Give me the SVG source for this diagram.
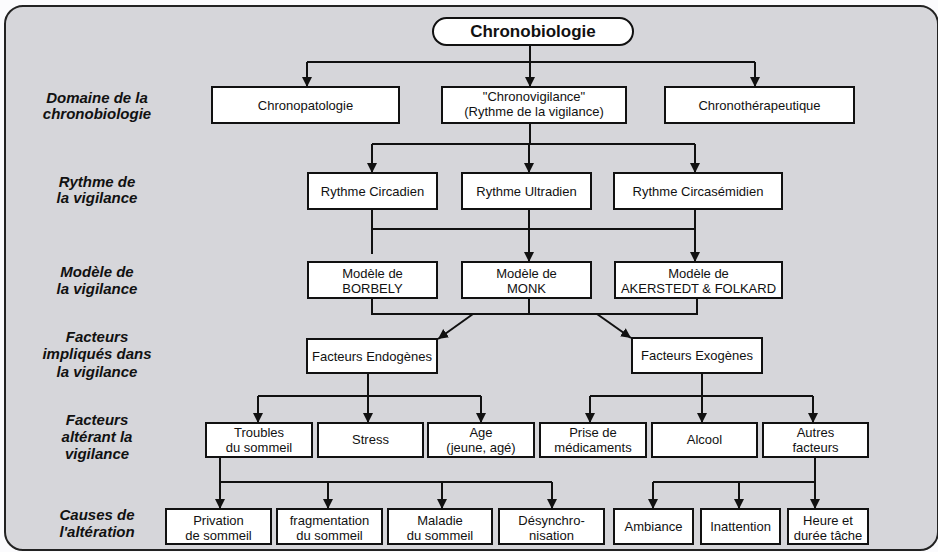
<svg xmlns="http://www.w3.org/2000/svg" width="938" height="552" viewBox="0 0 938 552">
<style>
.bg{fill:#d6d6da;stroke:#222;stroke-width:2}
.box{fill:#fff;stroke:#111;stroke-width:2}
.t{font-family:"Liberation Sans",Arial,sans-serif;font-size:13px;fill:#111;text-anchor:middle}
.title{font-family:"Liberation Sans",Arial,sans-serif;font-size:17px;font-weight:bold;fill:#111;text-anchor:middle}
.lab{font-family:"Liberation Sans",Arial,sans-serif;font-size:15px;font-weight:bold;font-style:italic;fill:#111;text-anchor:middle}
.c{fill:none;stroke:#111;stroke-width:2}
.a{fill:none;stroke:#111;stroke-width:2;marker-end:url(#ah)}
</style>
<defs>
<marker id="ah" viewBox="0 0 10 10" refX="10" refY="5" markerWidth="10" markerHeight="11" markerUnits="userSpaceOnUse" orient="auto">
<path d="M0,0 L10,5 L0,10 z" fill="#111"/>
</marker>
</defs>
<rect width="938" height="552" fill="#fbfbfd"/>
<rect class="bg" x="5" y="6" width="933" height="544" rx="18"/>

<g id="labels">
<text class="lab" x="97" y="103">Domaine de la</text>
<text class="lab" x="97" y="119">chronobiologie</text>
<text class="lab" x="97" y="187">Rythme de</text>
<text class="lab" x="97" y="203">la vigilance</text>
<text class="lab" x="97" y="277">Modèle de</text>
<text class="lab" x="97" y="294">la vigilance</text>
<text class="lab" x="97" y="342">Facteurs</text>
<text class="lab" x="97" y="359">impliqués dans</text>
<text class="lab" x="97" y="377">la vigilance</text>
<text class="lab" x="97" y="425">Facteurs</text>
<text class="lab" x="97" y="442">altérant la</text>
<text class="lab" x="97" y="459">vigilance</text>
<text class="lab" x="97" y="520">Causes de</text>
<text class="lab" x="97" y="537">l'altération</text>
</g>

<g id="connectors">
<path class="a" d="M530,45 V87"/>
<path class="c" d="M307,62 H755"/>
<path class="a" d="M307,62 V87"/>
<path class="a" d="M755,62 V87"/>
<path class="c" d="M530,123 V144"/>
<path class="c" d="M372,144 H695"/>
<path class="a" d="M372,144 V173"/>
<path class="a" d="M529,144 V173"/>
<path class="a" d="M695,144 V173"/>
<path class="c" d="M372,209 V254"/>
<path class="c" d="M372,229 H695"/>
<path class="a" d="M529,209 V262"/>
<path class="a" d="M695,209 V262"/>
<path class="c" d="M372,298 V314 H697 V298"/>
<path class="c" d="M529,298 V314"/>
<path class="a" d="M473,314 L438,339"/>
<path class="a" d="M597,314 L631,338"/>
<path class="a" d="M368,373 V423"/>
<path class="c" d="M258,396 H481"/>
<path class="a" d="M258,396 V423"/>
<path class="a" d="M481,396 V423"/>
<path class="a" d="M702,373 V423"/>
<path class="c" d="M590,396 H813"/>
<path class="a" d="M590,396 V423"/>
<path class="a" d="M813,396 V423"/>
<path class="a" d="M220,457 V509"/>
<path class="c" d="M220,482 H552"/>
<path class="a" d="M328,482 V509"/>
<path class="a" d="M442,482 V509"/>
<path class="a" d="M552,482 V509"/>
<path class="a" d="M815,457 V509"/>
<path class="c" d="M653,482 H815"/>
<path class="a" d="M653,482 V509"/>
<path class="a" d="M739,482 V509"/>
</g>

<g id="chronobiologie">
<rect class="box" x="433" y="18" width="200" height="27" rx="13.5"/>
<text class="title" x="533" y="37">Chronobiologie</text>
</g>
<g id="chronopatologie">
<rect class="box" x="212" y="87" width="187" height="36"/>
<text class="t" x="305.5" y="109.5">Chronopatologie</text>
</g>
<g id="chronovigilance">
<rect class="box" x="442" y="87" width="184" height="36"/>
<text class="t" x="534" y="100.5">"Chronovigilance"</text>
<text class="t" x="534" y="115.5">(Rythme de la vigilance)</text>
</g>
<g id="chronotherapeutique">
<rect class="box" x="665" y="87" width="189" height="36"/>
<text class="t" x="759.5" y="109.5">Chronothérapeutique</text>
</g>

<g id="circadien">
<rect class="box" x="308" y="173" width="129" height="36"/>
<text class="t" x="372.5" y="195.5">Rythme Circadien</text>
</g>
<g id="ultradien">
<rect class="box" x="462" y="173" width="129" height="36"/>
<text class="t" x="526.5" y="195.5">Rythme Ultradien</text>
</g>
<g id="circasemidien">
<rect class="box" x="614" y="173" width="168" height="36"/>
<text class="t" x="698" y="195.5">Rythme Circasémidien</text>
</g>

<g id="borbely">
<rect class="box" x="308" y="262" width="129" height="36"/>
<text class="t" x="372.5" y="278">Modèle de</text>
<text class="t" x="372.5" y="293">BORBELY</text>
</g>
<g id="monk">
<rect class="box" x="462" y="262" width="129" height="36"/>
<text class="t" x="526.5" y="278">Modèle de</text>
<text class="t" x="526.5" y="293">MONK</text>
</g>
<g id="akerstedt">
<rect class="box" x="615" y="262" width="167" height="36"/>
<text class="t" x="698.5" y="278">Modèle de</text>
<text class="t" x="698.5" y="293">AKERSTEDT &amp; FOLKARD</text>
</g>

<g id="endogenes">
<rect class="box" x="307" y="339" width="130" height="34"/>
<text class="t" x="372" y="360.5">Facteurs Endogènes</text>
</g>
<g id="exogenes">
<rect class="box" x="632" y="338" width="130" height="35"/>
<text class="t" x="697" y="360">Facteurs Exogènes</text>
</g>

<g id="troubles">
<rect class="box" x="206" y="423" width="106" height="34"/>
<text class="t" x="259" y="437">Troubles</text>
<text class="t" x="259" y="452">du sommeil</text>
</g>
<g id="stress">
<rect class="box" x="318" y="423" width="105" height="34"/>
<text class="t" x="370.5" y="444">Stress</text>
</g>
<g id="age">
<rect class="box" x="428" y="423" width="106" height="34"/>
<text class="t" x="481" y="437">Age</text>
<text class="t" x="481" y="452">(jeune, agé)</text>
</g>
<g id="prise">
<rect class="box" x="540" y="423" width="106" height="34"/>
<text class="t" x="593" y="437">Prise de</text>
<text class="t" x="593" y="452">médicaments</text>
</g>
<g id="alcool">
<rect class="box" x="652" y="423" width="105" height="34"/>
<text class="t" x="704.5" y="444">Alcool</text>
</g>
<g id="autres">
<rect class="box" x="763" y="423" width="105" height="34"/>
<text class="t" x="815.5" y="437">Autres</text>
<text class="t" x="815.5" y="452">facteurs</text>
</g>

<g id="privation">
<rect class="box" x="166" y="509" width="105" height="35"/>
<text class="t" x="218.5" y="525">Privation</text>
<text class="t" x="218.5" y="540">de sommeil</text>
</g>
<g id="fragmentation">
<rect class="box" x="277" y="509" width="105" height="35"/>
<text class="t" x="329.5" y="525">fragmentation</text>
<text class="t" x="329.5" y="540">du sommeil</text>
</g>
<g id="maladie">
<rect class="box" x="388" y="509" width="104" height="35"/>
<text class="t" x="440" y="525">Maladie</text>
<text class="t" x="440" y="540">du sommeil</text>
</g>
<g id="desynchro">
<rect class="box" x="499" y="509" width="105" height="35"/>
<text class="t" x="551.5" y="525">Désynchro-</text>
<text class="t" x="551.5" y="540">nisation</text>
</g>
<g id="ambiance">
<rect class="box" x="614" y="509" width="79" height="35"/>
<text class="t" x="653.5" y="531">Ambiance</text>
</g>
<g id="inattention">
<rect class="box" x="701" y="509" width="79" height="35"/>
<text class="t" x="740.5" y="531">Inattention</text>
</g>
<g id="heure">
<rect class="box" x="788" y="509" width="80" height="35"/>
<text class="t" x="828" y="525">Heure et</text>
<text class="t" x="828" y="540">durée tâche</text>
</g>
</svg>
